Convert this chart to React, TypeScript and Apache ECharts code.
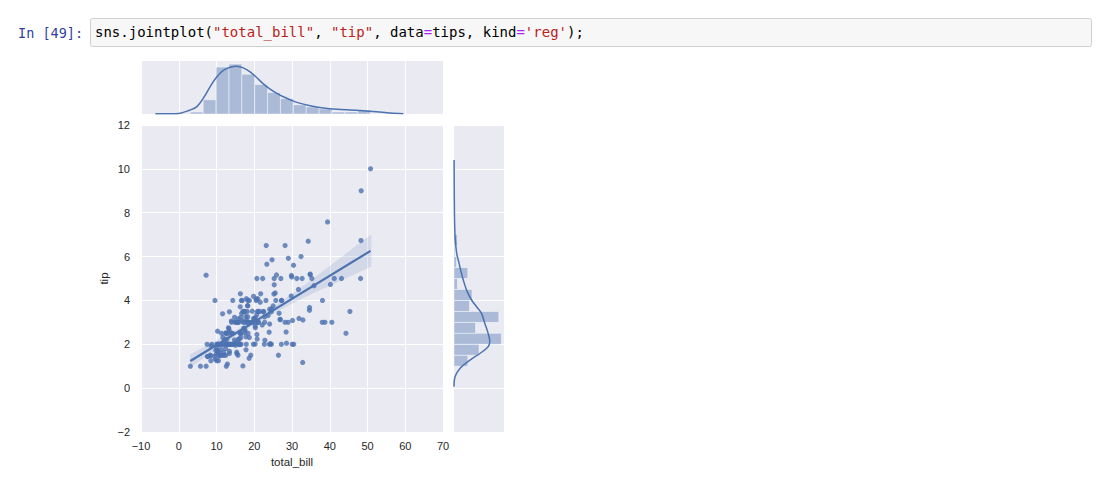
import React, { useEffect, useRef } from "react";
import * as echarts from "echarts";

// tips dataset: total_bill and tip
const totalBill = [16.99,10.34,21.01,23.68,24.59,25.29,8.77,26.88,15.04,14.78,10.27,35.26,15.42,18.43,14.83,21.58,10.33,16.29,16.97,20.65,17.92,20.29,15.77,39.42,19.82,17.81,13.37,12.69,21.70,19.65,9.55,18.35,15.06,20.69,17.78,24.06,16.31,16.93,18.69,31.27,16.04,17.46,13.94,9.68,30.40,18.29,22.23,32.40,28.55,18.04,12.54,10.29,34.81,9.94,25.56,19.49,38.01,26.41,11.24,48.27,20.29,13.81,11.02,18.29,17.59,20.08,16.45,3.07,20.23,15.01,12.02,17.07,26.86,25.28,14.73,10.51,17.92,27.20,22.76,17.29,19.44,16.66,10.07,32.68,15.98,34.83,13.03,18.28,24.71,21.16,28.97,22.49,5.75,16.32,22.75,40.17,27.28,12.03,21.01,12.46,11.35,15.38,44.30,22.42,20.92,15.36,20.49,25.21,18.24,14.31,14.00,7.25,38.07,23.95,25.71,17.31,29.93,10.65,12.43,24.08,11.69,13.42,14.26,15.95,12.48,29.80,8.52,14.52,11.38,22.82,19.08,20.27,11.17,12.26,18.26,8.51,10.33,14.15,16.00,13.16,17.47,34.30,41.19,27.05,16.43,8.35,18.64,11.87,9.78,7.51,14.07,13.13,17.26,24.55,19.77,29.85,48.17,25.00,13.39,16.49,21.50,12.66,16.21,13.81,17.51,24.52,20.76,31.71,10.59,10.63,50.81,15.81,7.25,31.85,16.82,32.90,17.89,14.48,9.60,34.63,34.65,23.33,45.35,23.17,40.55,20.69,20.90,30.46,18.15,23.10,15.69,19.81,28.44,15.48,16.58,7.56,10.34,43.11,13.00,13.51,18.71,12.74,13.00,16.40,20.53,16.47,26.59,38.73,24.27,12.76,30.06,25.89,48.33,13.27,28.17,12.90,28.15,11.59,7.74,30.14,12.16,13.42,8.58,15.98,13.42,16.27,10.09,20.45,13.28,22.12,24.01,15.69,11.61,10.77,15.53,10.07,12.60,32.83,35.83,29.03,27.18,22.67,17.82,18.78];
const tip = [1.01,1.66,3.50,3.31,3.61,4.71,2.00,3.12,1.96,3.23,1.71,5.00,1.57,3.00,3.02,3.92,1.67,3.71,3.50,3.35,4.08,2.75,2.23,7.58,3.18,2.34,2.00,2.00,4.30,3.00,1.45,2.50,3.00,2.45,3.27,3.60,2.00,3.07,2.31,5.00,2.24,2.54,3.06,1.32,5.60,3.00,5.00,6.00,2.05,3.00,2.50,2.60,5.20,1.56,4.34,3.51,3.00,1.50,1.76,6.73,3.21,2.00,1.98,3.76,2.64,3.15,2.47,1.00,2.01,2.09,1.97,3.00,3.14,5.00,2.20,1.25,3.08,4.00,3.00,2.71,3.00,3.40,1.83,5.00,2.03,5.17,2.00,4.00,5.85,3.00,3.00,3.50,1.00,4.30,3.25,4.73,4.00,1.50,3.00,1.50,2.50,3.00,2.50,3.48,4.08,1.64,4.06,4.29,3.76,4.00,3.00,1.00,4.00,2.55,4.00,3.50,5.07,1.50,1.80,2.92,2.31,1.68,2.50,2.00,2.52,4.20,1.48,2.00,2.00,2.18,1.50,2.83,1.50,2.00,3.25,1.25,2.00,2.00,2.00,2.75,3.50,6.70,5.00,5.00,2.30,1.50,1.36,1.63,1.73,2.00,2.50,2.00,2.74,2.00,2.00,5.14,5.00,3.75,2.61,2.00,3.50,2.50,2.00,2.00,3.00,3.48,2.24,4.50,1.61,2.00,10.00,3.16,5.15,3.18,4.00,3.11,2.00,2.00,4.00,3.55,3.68,5.65,3.50,6.50,3.00,5.00,3.50,2.00,3.50,4.00,1.50,4.19,2.56,2.02,4.00,1.44,2.00,5.00,2.00,2.00,4.00,2.01,2.00,2.50,4.00,3.23,3.41,3.00,2.03,2.23,2.00,5.16,9.00,2.50,6.50,1.10,3.00,1.50,1.44,3.09,2.20,3.48,1.92,3.00,1.58,2.50,2.00,3.00,2.72,2.88,2.00,3.00,3.39,1.47,3.00,1.25,1.00,1.17,4.67,5.92,2.00,2.00,1.75,3.00];

// regression line and its confidence band
const regX = [3.07, 50.81];
const regY = [1.24, 6.26];
const bandX = [3, 10, 15, 20, 25, 30, 35, 40, 45, 51];
const bandLow = [0.94, 1.77, 2.37, 2.9, 3.4, 3.85, 4.28, 4.67, 5.07, 5.54];
const bandHigh = [1.54, 2.17, 2.63, 3.14, 3.7, 4.29, 4.92, 5.57, 6.23, 7.02];

// marginal histogram of total_bill
const billEdges = [3.07, 6.48, 9.89, 13.3, 16.71, 20.12, 23.53, 26.94, 30.35, 33.76, 37.17, 40.58, 43.99, 47.4, 50.81];
const billCounts = [2, 14, 46, 49, 39, 29, 21, 15, 9, 7, 5, 2, 2, 4];
const billKdeX = [-6.2, -0.5, 3.0, 4.8, 6.6, 8.3, 10.1, 11.9, 13.6, 15.4, 17.1, 18.9, 20.7, 22.4, 24.2, 26.0, 27.7, 29.5, 31.3, 34.8, 38.3, 41.9, 45.4, 48.9, 52.4, 56.0, 59.5];
const billKdeY = [0.3, 0.33, 3.9, 7.2, 16, 26.7, 36.5, 43, 45.9, 46.9, 45.3, 41.4, 35.5, 29.6, 24.4, 20.2, 16.9, 14, 11.4, 8.1, 5.9, 4.6, 3.9, 3.3, 2.3, 1.0, 0.3];

// marginal histogram of tip
const tipEdges = [1, 1.5, 2, 2.5, 3, 3.5, 4, 4.5, 5, 5.5, 6, 6.5, 7, 7.5, 8, 8.5, 9, 9.5, 10];
const tipCounts = [16, 29, 55, 25, 52, 18, 21, 4, 16, 3, 1, 4, 0, 1, 0, 0, 1, 1];
const tipKdeTip = [0.06, 0.52, 0.9, 1.28, 1.58, 1.89, 2.11, 2.5, 2.95, 3.41, 3.71, 4.02, 4.47, 4.93, 5.39, 5.84, 6.15, 6.76, 7.37, 8.43, 10.4];
const tipKdeDens = [0, 1.2, 6.9, 18.5, 30, 39.6, 41.5, 39.6, 35.8, 31.9, 26.2, 20.4, 14.6, 10.8, 7.7, 5, 3.1, 1.5, 0.8, 0.4, 0.1];

const xTicks = [-10, 0, 10, 20, 30, 40, 50, 60, 70];
const yTicks = [-2, 0, 2, 4, 6, 8, 10, 12];

const BLUE = "#4C72B0";
const BG = "#EAEAF2";
const FONT = "'Liberation Sans', Arial, Helvetica, sans-serif";
const MONO = "'DejaVu Sans Mono', 'Liberation Mono', monospace";

const minusFmt = (v: number) => (v < 0 ? "\u2212" + Math.abs(v) : String(v));

export default function App() {
  const ref = useRef<HTMLDivElement>(null);
  useEffect(() => {
    if (!ref.current) return;
    const chart = echarts.init(ref.current, undefined, { renderer: "svg" });

    const scatterData = totalBill.map((x, i) => [x, tip[i]]).filter((p) => p[1] !== undefined);
    const billHist = billCounts.map((c, i) => [billEdges[i], billEdges[i + 1], c]);
    const tipHist = tipCounts.map((c, i) => [tipEdges[i], tipEdges[i + 1], c]);

    const hiddenAxis = {
      axisLine: { show: false },
      axisTick: { show: false },
      axisLabel: { show: false },
    };
    const white = { show: true, lineStyle: { color: "#ffffff", width: 1 } };

    const option: any = {
      animation: false,
      backgroundColor: "#ffffff",
      textStyle: { fontFamily: FONT },
      grid: [
        { left: 141, top: 125, width: 302, height: 307, show: true, backgroundColor: BG, borderWidth: 0 },
        { left: 141, top: 61, width: 302, height: 53, show: true, backgroundColor: BG, borderWidth: 0 },
        { left: 454, top: 125, width: 50, height: 307, show: true, backgroundColor: BG, borderWidth: 0 },
      ],
      xAxis: [
        {
          gridIndex: 0, type: "value", min: xTicks[0], max: xTicks[xTicks.length - 1], interval: 10,
          axisLine: { show: false }, axisTick: { show: false },
          axisLabel: { formatter: minusFmt, color: "#262626", fontSize: 11, margin: 8, fontFamily: FONT },
          splitLine: white,
          name: "total_bill", nameLocation: "middle", nameGap: 24,
          nameTextStyle: { color: "#262626", fontSize: 11.5, fontFamily: FONT },
        },
        { gridIndex: 1, type: "value", min: -10, max: 70, interval: 10, ...hiddenAxis, splitLine: white },
        { gridIndex: 2, type: "value", min: 0, max: 58, ...hiddenAxis, splitLine: { show: false } },
      ],
      yAxis: [
        {
          gridIndex: 0, type: "value", min: yTicks[0], max: yTicks[yTicks.length - 1], interval: 2,
          axisLine: { show: false }, axisTick: { show: false },
          axisLabel: { formatter: minusFmt, color: "#262626", fontSize: 11, margin: 11, fontFamily: FONT },
          splitLine: white,
          name: "tip", nameLocation: "middle", nameGap: 31, nameRotate: 90,
          nameTextStyle: { color: "#262626", fontSize: 11.5, fontFamily: FONT },
        },
        { gridIndex: 1, type: "value", min: 0, max: 52, ...hiddenAxis, splitLine: { show: false } },
        { gridIndex: 2, type: "value", min: -2, max: 12, interval: 2, ...hiddenAxis, splitLine: white },
      ],
      series: [
        {
          type: "scatter", xAxisIndex: 0, yAxisIndex: 0, data: scatterData,
          symbolSize: 5.2, itemStyle: { color: BLUE, opacity: 0.8 }, z: 2,
        },
        {
          type: "custom", xAxisIndex: 0, yAxisIndex: 0, z: 3,
          data: [[bandX[0], bandLow[0]]],
          renderItem: (_p: any, api: any) => {
            const pts: number[][] = [];
            for (let i = 0; i < bandX.length; i++) pts.push(api.coord([bandX[i], bandHigh[i]]));
            for (let i = bandX.length - 1; i >= 0; i--) pts.push(api.coord([bandX[i], bandLow[i]]));
            return { type: "polygon", shape: { points: pts }, style: { fill: "rgba(76,114,176,0.15)" } };
          },
        },
        {
          type: "line", xAxisIndex: 0, yAxisIndex: 0, z: 4,
          data: regX.map((x, i) => [x, regY[i]]), symbol: "none",
          lineStyle: { color: BLUE, width: 2.2 },
        },
        {
          type: "custom", xAxisIndex: 1, yAxisIndex: 1, data: billHist,
          encode: { x: [0, 1], y: 2 },
          renderItem: (_p: any, api: any) => {
            const a = api.coord([api.value(0), api.value(2)]);
            const b = api.coord([api.value(1), 0]);
            return {
              type: "rect",
              shape: { x: a[0], y: a[1], width: b[0] - a[0], height: b[1] - a[1] },
              style: { fill: "rgba(76,114,176,0.4)", stroke: "rgba(255,255,255,0.45)", lineWidth: 1 },
            };
          },
        },
        {
          type: "line", xAxisIndex: 1, yAxisIndex: 1, smooth: 0.35, symbol: "none",
          data: billKdeX.map((x, i) => [x, billKdeY[i]]),
          lineStyle: { color: BLUE, width: 1.5 },
        },
        {
          type: "custom", xAxisIndex: 2, yAxisIndex: 2, data: tipHist,
          encode: { y: [0, 1], x: 2 },
          renderItem: (_p: any, api: any) => {
            const a = api.coord([0, api.value(1)]);
            const b = api.coord([api.value(2), api.value(0)]);
            return {
              type: "rect",
              shape: { x: a[0], y: a[1], width: b[0] - a[0], height: b[1] - a[1] },
              style: { fill: "rgba(76,114,176,0.4)", stroke: "rgba(255,255,255,0.45)", lineWidth: 1 },
            };
          },
        },
        {
          type: "line", xAxisIndex: 2, yAxisIndex: 2, smooth: 0.35, symbol: "none",
          data: tipKdeTip.map((t, i) => [tipKdeDens[i], t]),
          lineStyle: { color: BLUE, width: 1.5 },
        },
      ],
      graphic: [
        {
          type: "text", left: 18, top: 26,
          style: { text: "In [49]:", fill: "#303F9F", font: `13.5px ${MONO}` },
        },
        {
          type: "rect", shape: { x: 90.5, y: 18.5, width: 1001, height: 28, r: 2 },
          style: { fill: "#F7F7F7", stroke: "#CFCFCF", lineWidth: 1 },
        },
        {
          type: "text", left: 95, top: 25,
          style: {
            text: "{b|sns.jointplot(}{r|\"total_bill\"}{b|, }{r|\"tip\"}{b|, data}{p|=}{b|tips, kind}{p|=}{r|'reg'}{b|);}",
            font: `14px ${MONO}`,
            rich: {
              b: { fill: "#000000", font: `14px ${MONO}` },
              r: { fill: "#BA2121", font: `14px ${MONO}` },
              p: { fill: "#AA22FF", font: `14px ${MONO}` },
            },
          },
        },
      ],
    };
    chart.setOption(option);
    return () => chart.dispose();
  }, []);

  return (
    <div
      ref={ref}
      style={{ position: "absolute", left: 0, top: 0, width: 1099, height: 487, background: "#fff" }}
    />
  );
}
